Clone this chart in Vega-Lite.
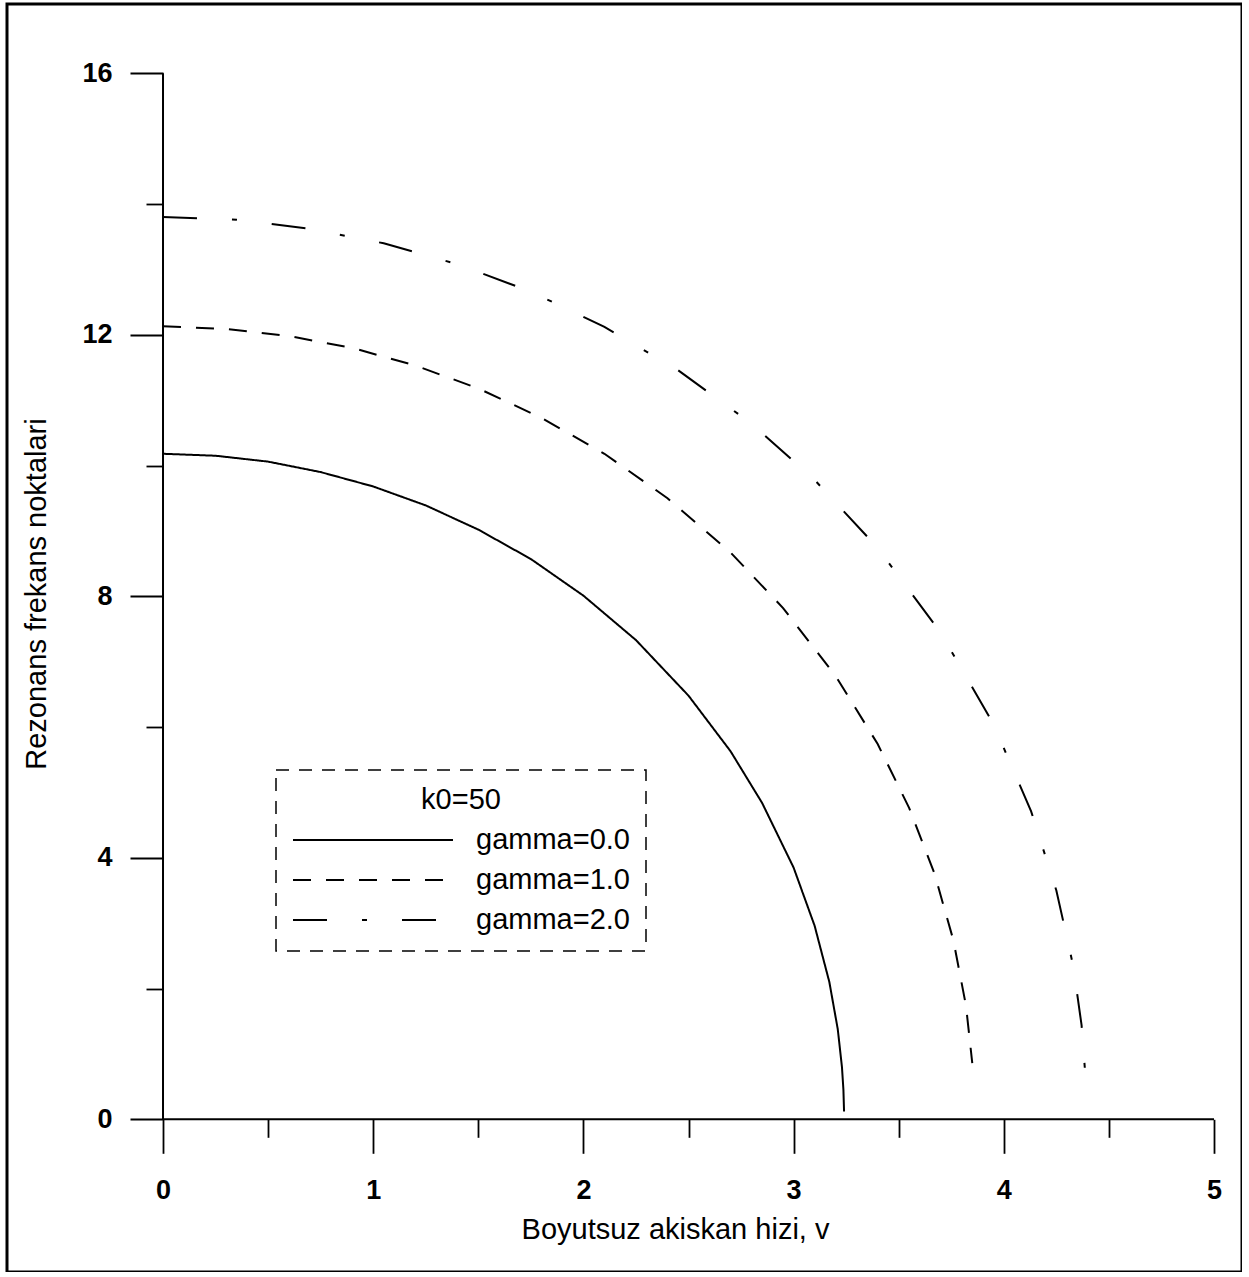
{
  "$schema": "https://vega.github.io/schema/vega-lite/v6.json",
  "width": 1235,
  "height": 1268,
  "autosize": {"type": "none"},
  "padding": {"left": 7, "top": 4, "right": 0, "bottom": 0},
  "background": "white",
  "config": {
    "font": "Liberation Sans",
    "view": {"stroke": "black", "strokeWidth": 3},
    "axis": {"grid": false, "domain": false, "tickColor": "black", "tickWidth": 1.8, "labelColor": "black", "titleColor": "black", "labelFlush": false, "labelOverlap": false},
    "legend": {"strokeDash": [13, 10], "strokeWidth": 1.5}
  },
  "datasets": {
    "curves": [
      {"v": 0, "f": 10.18, "g": "gamma=0.0"},
      {"v": 0.25, "f": 10.15, "g": "gamma=0.0"},
      {"v": 0.5, "f": 10.06, "g": "gamma=0.0"},
      {"v": 0.75, "f": 9.9, "g": "gamma=0.0"},
      {"v": 1.0, "f": 9.68, "g": "gamma=0.0"},
      {"v": 1.25, "f": 9.39, "g": "gamma=0.0"},
      {"v": 1.5, "f": 9.02, "g": "gamma=0.0"},
      {"v": 1.75, "f": 8.57, "g": "gamma=0.0"},
      {"v": 2.0, "f": 8.01, "g": "gamma=0.0"},
      {"v": 2.25, "f": 7.33, "g": "gamma=0.0"},
      {"v": 2.5, "f": 6.48, "g": "gamma=0.0"},
      {"v": 2.7, "f": 5.63, "g": "gamma=0.0"},
      {"v": 2.85, "f": 4.84, "g": "gamma=0.0"},
      {"v": 3.0, "f": 3.85, "g": "gamma=0.0"},
      {"v": 3.1, "f": 2.96, "g": "gamma=0.0"},
      {"v": 3.17, "f": 2.1, "g": "gamma=0.0"},
      {"v": 3.21, "f": 1.38, "g": "gamma=0.0"},
      {"v": 3.23, "f": 0.8, "g": "gamma=0.0"},
      {"v": 3.237, "f": 0.45, "g": "gamma=0.0"},
      {"v": 3.24, "f": 0.12, "g": "gamma=0.0"},
      {"v": 0, "f": 12.13, "g": "gamma=1.0"},
      {"v": 0.3, "f": 12.09, "g": "gamma=1.0"},
      {"v": 0.6, "f": 11.98, "g": "gamma=1.0"},
      {"v": 0.9, "f": 11.8, "g": "gamma=1.0"},
      {"v": 1.2, "f": 11.53, "g": "gamma=1.0"},
      {"v": 1.5, "f": 11.18, "g": "gamma=1.0"},
      {"v": 1.8, "f": 10.73, "g": "gamma=1.0"},
      {"v": 2.1, "f": 10.18, "g": "gamma=1.0"},
      {"v": 2.4, "f": 9.5, "g": "gamma=1.0"},
      {"v": 2.7, "f": 8.67, "g": "gamma=1.0"},
      {"v": 2.95, "f": 7.82, "g": "gamma=1.0"},
      {"v": 3.2, "f": 6.78, "g": "gamma=1.0"},
      {"v": 3.4, "f": 5.74, "g": "gamma=1.0"},
      {"v": 3.55, "f": 4.76, "g": "gamma=1.0"},
      {"v": 3.67, "f": 3.76, "g": "gamma=1.0"},
      {"v": 3.76, "f": 2.74, "g": "gamma=1.0"},
      {"v": 3.82, "f": 1.74, "g": "gamma=1.0"},
      {"v": 3.85, "f": 0.86, "g": "gamma=1.0"},
      {"v": 0, "f": 13.8, "g": "gamma=2.0"},
      {"v": 0.35, "f": 13.76, "g": "gamma=2.0"},
      {"v": 0.7, "f": 13.62, "g": "gamma=2.0"},
      {"v": 1.05, "f": 13.4, "g": "gamma=2.0"},
      {"v": 1.4, "f": 13.08, "g": "gamma=2.0"},
      {"v": 1.75, "f": 12.66, "g": "gamma=2.0"},
      {"v": 2.1, "f": 12.12, "g": "gamma=2.0"},
      {"v": 2.45, "f": 11.46, "g": "gamma=2.0"},
      {"v": 2.8, "f": 10.64, "g": "gamma=2.0"},
      {"v": 3.1, "f": 9.78, "g": "gamma=2.0"},
      {"v": 3.4, "f": 8.74, "g": "gamma=2.0"},
      {"v": 3.7, "f": 7.44, "g": "gamma=2.0"},
      {"v": 3.95, "f": 6.05, "g": "gamma=2.0"},
      {"v": 4.13, "f": 4.71, "g": "gamma=2.0"},
      {"v": 4.25, "f": 3.5, "g": "gamma=2.0"},
      {"v": 4.33, "f": 2.35, "g": "gamma=2.0"},
      {"v": 4.37, "f": 1.44, "g": "gamma=2.0"},
      {"v": 4.39, "f": 0.59, "g": "gamma=2.0"}
    ]
  },
  "layer": [
    {
      "data": {"name": "curves"},
      "mark": {"type": "line", "color": "black", "strokeWidth": 2, "strokeCap": "butt"},
      "encoding": {
        "x": {
          "field": "v", "type": "quantitative",
          "scale": {"domain": [-0.7422, 5.1332], "nice": false, "zero": false},
          "axis": {
            "orient": "bottom", "offset": -152.7, "values": [0, 1, 2, 3, 4, 5], "format": "d",
            "tickSize": 34, "labelPadding": 24, "labelFontSize": 27, "labelFontWeight": "bold",
            "title": "Boyutsuz akiskan hizi, v", "titleFontSize": 29, "titleFontWeight": "normal",
            "titleX": 668, "titleY": 119, "titleBaseline": "alphabetic", "titleAlign": "center"
          }
        },
        "y": {
          "field": "f", "type": "quantitative",
          "scale": {"domain": [-2.336, 17.06], "nice": false, "zero": false},
          "axis": {
            "orient": "left", "offset": -156, "values": [0, 4, 8, 12, 16], "format": "d",
            "tickSize": 33, "labelPadding": 18, "labelFontSize": 27, "labelFontWeight": "bold",
            "title": "Rezonans frekans noktalari", "titleFontSize": 29, "titleFontWeight": "normal",
            "titleX": -118, "titleY": 589.5, "titleAngle": -90, "titleBaseline": "alphabetic", "titleAlign": "center"
          }
        },
        "strokeDash": {
          "field": "g", "type": "nominal",
          "scale": {"domain": ["gamma=0.0", "gamma=1.0", "gamma=2.0"], "range": [[1, 0], [18, 15], [34, 35, 5, 35]]},
          "legend": {
            "title": "k0=50", "orient": "none", "legendX": 269, "legendY": 766, "direction": "vertical",
            "strokeColor": "black", "padding": 16,
            "titleFontSize": 29, "titleFontWeight": "normal", "titleColor": "black", "titleAnchor": "middle", "titlePadding": 10,
            "labelFontSize": 29, "labelColor": "black", "labelLimit": 400, "labelOffset": 22,
            "symbolType": "stroke", "symbolSize": 25600, "symbolStrokeWidth": 1.8, "symbolStrokeColor": "black",
            "clipHeight": 30, "rowPadding": 10
          }
        }
      }
    },
    {
      "data": {"values": [{}]},
      "mark": {"type": "rule", "color": "black", "strokeWidth": 2},
      "encoding": {
        "x": {"datum": 0, "type": "quantitative", "axis": {"orient": "bottom", "offset": -152.7, "values": [0.5, 1.5, 2.5, 3.5, 4.5], "tickSize": 18, "labels": false, "title": null}},
        "x2": {"datum": 5},
        "y": {"datum": 0, "type": "quantitative", "axis": null}
      }
    },
    {
      "data": {"values": [{}]},
      "mark": {"type": "rule", "color": "black", "strokeWidth": 2},
      "encoding": {
        "x": {"datum": 0, "type": "quantitative", "axis": null},
        "y": {"datum": 0, "type": "quantitative", "axis": {"orient": "left", "offset": -156, "values": [2, 6, 10, 14], "tickSize": 17, "labels": false, "title": null}},
        "y2": {"datum": 16}
      }
    }
  ],
  "resolve": {"axis": {"x": "independent", "y": "independent"}}
}
